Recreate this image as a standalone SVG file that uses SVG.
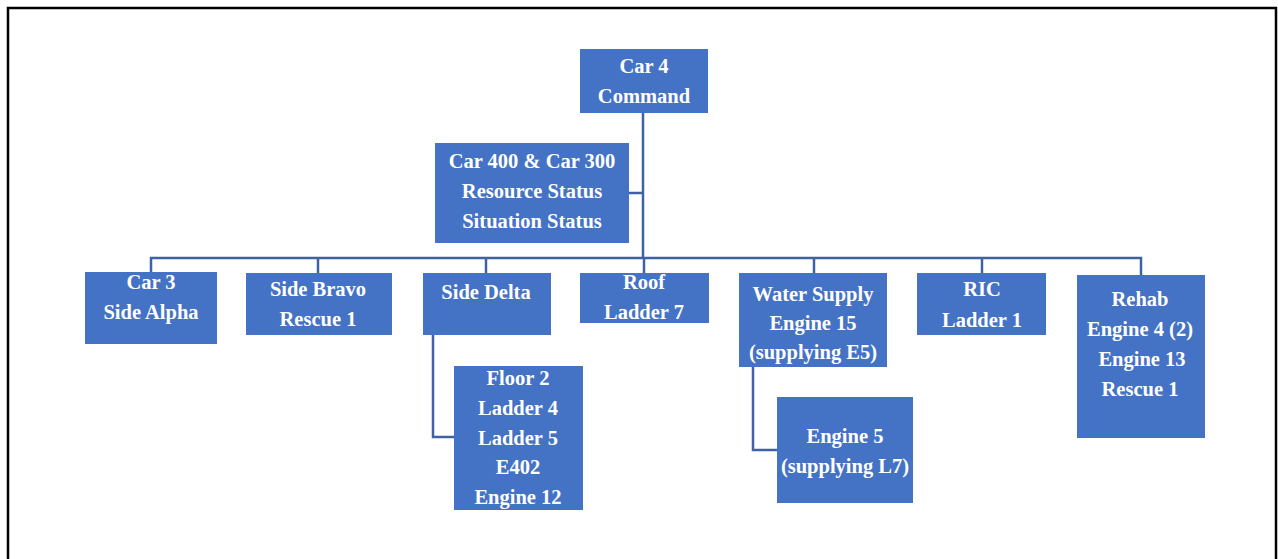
<svg xmlns="http://www.w3.org/2000/svg" width="1278" height="559" viewBox="0 0 1278 559">
<style>
.box{fill:#4472C4;}
.t{font-family:"Liberation Serif","Times New Roman",serif;font-weight:bold;font-size:20.5px;fill:#ffffff;text-anchor:middle;}
.c{fill:none;stroke:#3E62A4;stroke-width:2.5;}
</style>
<rect width="1278" height="559" fill="#ffffff"/>
<path d="M8 559 V8 H1276 V559" fill="none" stroke="#000000" stroke-width="2.5"/>
<g id="connectors">
<path class="c" d="M643 113 V258"/>
<path class="c" d="M629 193 H643"/>
<path class="c" d="M151 272 V258 H1141 V275"/>
<path class="c" d="M318 258 V273"/>
<path class="c" d="M486 258 V273"/>
<path class="c" d="M644 258 V273"/>
<path class="c" d="M814 258 V273"/>
<path class="c" d="M982 258 V273"/>
<path class="c" d="M433 335 V437 H454"/>
<path class="c" d="M753 367 V450 H777"/>
</g>
<g id="car4">
<rect class="box" x="580" y="49" width="128" height="64"/>
<text class="t" x="644" y="73">Car 4</text>
<text class="t" x="644" y="103">Command</text>
</g>
<g id="car400">
<rect class="box" x="435" y="143" width="194" height="100"/>
<text class="t" x="532" y="168">Car 400 &amp; Car 300</text>
<text class="t" x="532" y="198">Resource Status</text>
<text class="t" x="532" y="228">Situation Status</text>
</g>
<g id="car3">
<rect class="box" x="85" y="272" width="132" height="72"/>
<text class="t" x="151" y="289">Car 3</text>
<text class="t" x="151" y="319">Side Alpha</text>
</g>
<g id="bravo">
<rect class="box" x="246" y="273" width="146" height="62"/>
<text class="t" x="318" y="296">Side Bravo</text>
<text class="t" x="318" y="326">Rescue 1</text>
</g>
<g id="delta">
<rect class="box" x="423" y="273" width="128" height="62"/>
<text class="t" x="486" y="299">Side Delta</text>
</g>
<g id="roof">
<rect class="box" x="580" y="273" width="129" height="50"/>
<text class="t" x="644" y="289">Roof</text>
<text class="t" x="644" y="319">Ladder 7</text>
</g>
<g id="water">
<rect class="box" x="739" y="273" width="148" height="94"/>
<text class="t" x="813" y="301">Water Supply</text>
<text class="t" x="813" y="330">Engine 15</text>
<text class="t" x="813" y="359">(supplying E5)</text>
</g>
<g id="ric">
<rect class="box" x="917" y="273" width="129" height="62"/>
<text class="t" x="982" y="296">RIC</text>
<text class="t" x="982" y="327">Ladder 1</text>
</g>
<g id="rehab">
<rect class="box" x="1077" y="275" width="128" height="163"/>
<text class="t" x="1140" y="306">Rehab</text>
<text class="t" x="1140" y="336">Engine 4 (2)</text>
<text class="t" x="1142" y="366">Engine 13</text>
<text class="t" x="1140" y="396">Rescue 1</text>
</g>
<g id="floor2">
<rect class="box" x="454" y="366" width="129" height="144"/>
<text class="t" x="518" y="385">Floor 2</text>
<text class="t" x="518" y="415">Ladder 4</text>
<text class="t" x="518" y="445">Ladder 5</text>
<text class="t" x="518" y="474">E402</text>
<text class="t" x="518" y="504">Engine 12</text>
</g>
<g id="engine5">
<rect class="box" x="777" y="397" width="136" height="106"/>
<text class="t" x="845" y="443">Engine 5</text>
<text class="t" x="845" y="473">(supplying L7)</text>
</g>
</svg>
